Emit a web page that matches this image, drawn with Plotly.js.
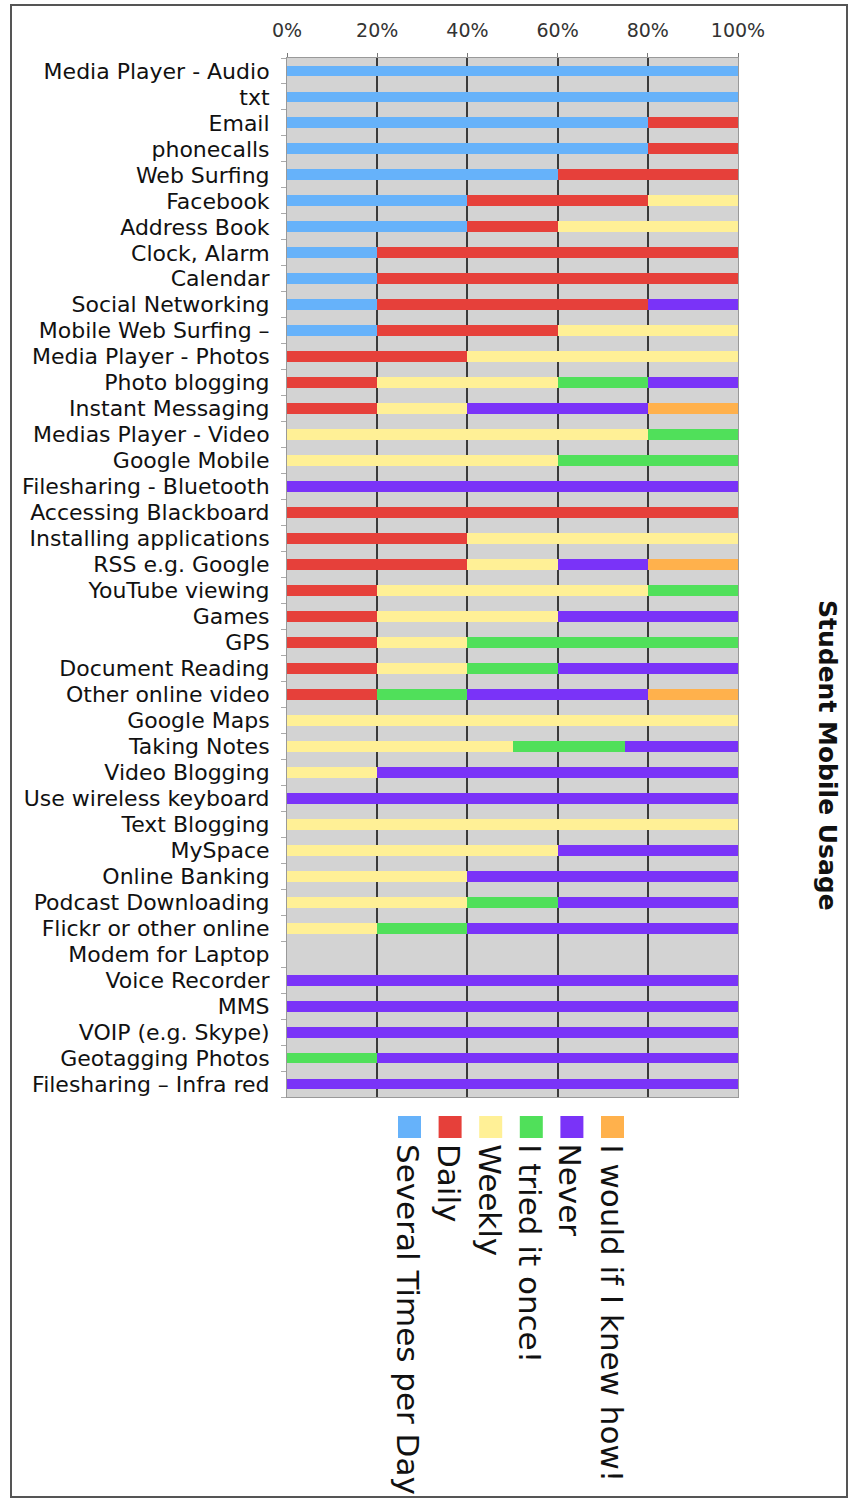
<!DOCTYPE html>
<html>
<head>
<meta charset="utf-8">
<script src="https://cdn.plot.ly/plotly-3.0.1.min.js"></script>
<style>
  html, body { margin: 0; padding: 0; background: #ffffff; }
  #chart { width: 856px; height: 1502px; }
</style>
</head>
<body>
<div id="chart"></div>
<script>
// Survey items, listed top to bottom
const categories = [
  'Media Player - Audio', 'txt', 'Email', 'phonecalls', 'Web Surfing',
  'Facebook', 'Address Book', 'Clock, Alarm', 'Calendar', 'Social Networking',
  'Mobile Web Surfing –', 'Media Player - Photos', 'Photo blogging', 'Instant Messaging',
  'Medias Player - Video', 'Google Mobile', 'Filesharing - Bluetooth', 'Accessing Blackboard',
  'Installing applications', 'RSS e.g. Google', 'YouTube viewing', 'Games', 'GPS',
  'Document Reading', 'Other online video', 'Google Maps', 'Taking Notes', 'Video Blogging',
  'Use wireless keyboard', 'Text Blogging', 'MySpace', 'Online Banking', 'Podcast Downloading',
  'Flickr or other online', 'Modem for Laptop', 'Voice Recorder', 'MMS', 'VOIP (e.g. Skype)',
  'Geotagging Photos', 'Filesharing – Infra red'
];

// Response types (stack order, left to right)
const seriesNames = [
  'Several Times per Day', 'Daily', 'Weekly', 'I tried it once!', 'Never', 'I would if I knew how!'
];
const seriesColors = ['#66b2fa', '#e6403a', '#fff096', '#50e05a', '#7a33f8', '#ffb14c'];

// Share of students (%) per item for each response type
const severalTimesPerDay = [100, 100, 80, 80, 60, 40, 40, 20, 20, 20, 20, 0, 0, 0, 0, 0, 0, 0, 0, 0,
                            0, 0, 0, 0, 0, 0, 0, 0, 0, 0, 0, 0, 0, 0, 0, 0, 0, 0, 0, 0];
const daily              = [0, 0, 20, 20, 40, 40, 20, 80, 80, 60, 40, 40, 20, 20, 0, 0, 0, 100, 40, 40,
                            20, 20, 20, 20, 20, 0, 0, 0, 0, 0, 0, 0, 0, 0, 0, 0, 0, 0, 0, 0];
const weekly             = [0, 0, 0, 0, 0, 20, 40, 0, 0, 0, 40, 60, 40, 20, 80, 60, 0, 0, 60, 20,
                            60, 40, 20, 20, 0, 100, 50, 20, 0, 100, 60, 40, 40, 20, 0, 0, 0, 0, 0, 0];
const triedOnce          = [0, 0, 0, 0, 0, 0, 0, 0, 0, 0, 0, 0, 20, 0, 20, 40, 0, 0, 0, 0,
                            20, 0, 60, 20, 20, 0, 25, 0, 0, 0, 0, 0, 20, 20, 0, 0, 0, 0, 20, 0];
const never              = [0, 0, 0, 0, 0, 0, 0, 0, 0, 20, 0, 0, 20, 40, 0, 0, 100, 0, 0, 20,
                            0, 40, 0, 40, 40, 0, 25, 80, 100, 0, 40, 60, 40, 60, 0, 100, 100, 100, 80, 100];
const wouldIfKnewHow     = [0, 0, 0, 0, 0, 0, 0, 0, 0, 0, 0, 0, 0, 20, 0, 0, 0, 0, 0, 20,
                            0, 0, 0, 0, 20, 0, 0, 0, 0, 0, 0, 0, 0, 0, 0, 0, 0, 0, 0, 0];

const seriesValues = [severalTimesPerDay, daily, weekly, triedOnce, never, wouldIfKnewHow];

// Axis tick labels
const xTickVals = [0, 20, 40, 60, 80, 100];
const xTickText = ['0%', '20%', '40%', '60%', '80%', '100%'];

const chartTitle = 'Student Mobile Usage';

const W = 856, H = 1502;
const M = { l: 287, r: 118, t: 58, b: 405 };
const plotW = W - M.l - M.r;
const plotH = H - M.t - M.b;
// pixel -> paper coordinates
const px = v => (v - M.l) / plotW;
const py = v => (H - M.b - v) / plotH;

const FONT = 'DejaVu Sans, Verdana, sans-serif';

const traces = seriesNames.map((name, i) => ({
  type: 'bar',
  orientation: 'h',
  name: name,
  y: categories,
  x: seriesValues[i],
  marker: { color: seriesColors[i], line: { width: 0 } },
  hoverinfo: 'name+x+y'
}));

const shapes = [];
const annotations = [];

// outer frame
shapes.push({
  type: 'rect', xref: 'paper', yref: 'paper', layer: 'below',
  x0: px(11), x1: px(847), y0: py(5), y1: py(1497),
  line: { color: '#555555', width: 2 }, fillcolor: 'rgba(0,0,0,0)'
});

// legend: colour swatches with vertical labels
seriesNames.forEach((name, i) => {
  const left = 398 + 40.6 * i;
  shapes.push({
    type: 'rect', xref: 'paper', yref: 'paper',
    x0: px(left), x1: px(left + 23), y0: py(1116), y1: py(1138),
    line: { width: 0 }, fillcolor: seriesColors[i]
  });
  annotations.push({
    xref: 'paper', yref: 'paper', x: px(left + 10.5), y: py(1142),
    xanchor: 'center', yanchor: 'top', showarrow: false,
    textangle: 90, text: name,
    font: { family: FONT, size: 31, color: '#111111' }
  });
});

// vertical chart title on the right
annotations.push({
  xref: 'paper', yref: 'paper', x: px(828), y: py(755),
  xanchor: 'center', yanchor: 'middle', showarrow: false,
  textangle: 90, text: '<b>' + chartTitle + '</b>',
  font: { family: FONT, size: 25, color: '#111111' }
});

const layout = {
  width: W, height: H,
  margin: M,
  paper_bgcolor: '#ffffff',
  plot_bgcolor: '#d3d3d3',
  barmode: 'stack',
  bargap: 0.58,
  showlegend: false,
  font: { family: FONT, color: '#111111' },
  xaxis: {
    side: 'top',
    range: [0, 100],
    tickvals: xTickVals,
    ticktext: xTickText,
    tickfont: { family: FONT, size: 19, color: '#333333' },
    ticklabelstandoff: 8,
    showgrid: true, gridcolor: '#3a3a3a', gridwidth: 1.5,
    zeroline: false,
    showline: true, linecolor: '#999999', linewidth: 1, mirror: true,
    ticks: 'outside', ticklen: 4, tickcolor: '#777777',
    fixedrange: true
  },
  yaxis: {
    type: 'category',
    autorange: 'reversed',
    tickmode: 'array',
    tickvals: categories,
    ticktext: categories,
    tickfont: { family: FONT, size: 22, color: '#111111' },
    ticks: 'outside', tickson: 'boundaries', ticklen: 5, tickcolor: '#aaaaaa',
    ticklabelstandoff: 12,
    showgrid: false, zeroline: false,
    showline: true, linecolor: '#999999', linewidth: 1, mirror: true,
    fixedrange: true
  },
  shapes: shapes,
  annotations: annotations
};

Plotly.newPlot('chart', traces, layout, { displayModeBar: false, responsive: false });
</script>
</body>
</html>
